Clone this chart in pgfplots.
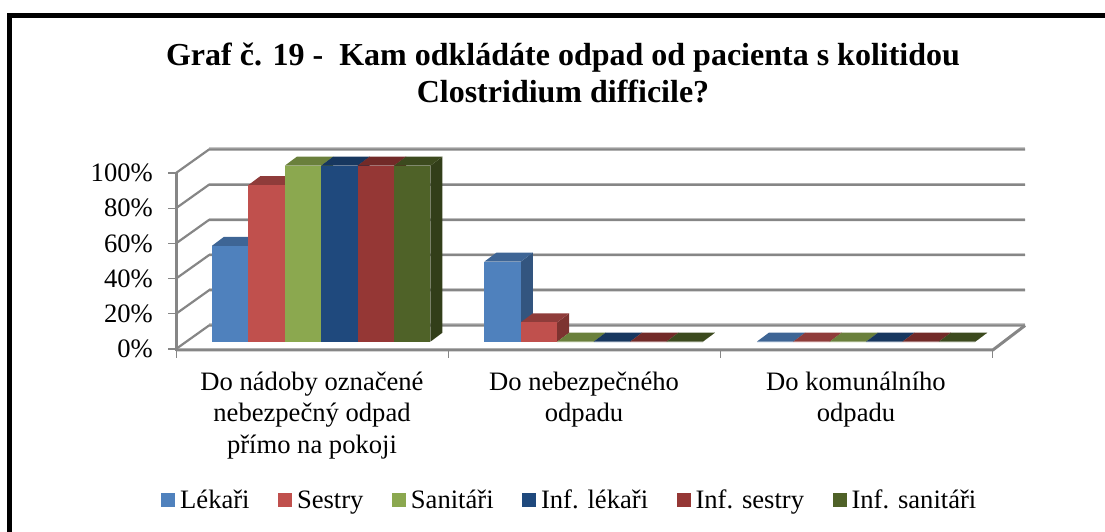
\documentclass[border=0pt]{standalone}
\usepackage{fontspec}
\setmainfont{Liberation Serif}
\usepackage{pgfplots}
\pgfplotsset{compat=1.18}

\definecolor{frontA}{HTML}{4F81BD}\definecolor{topA}{HTML}{3E6595}\definecolor{sideA}{HTML}{33557F}
\definecolor{frontB}{HTML}{C0504D}\definecolor{topB}{HTML}{8F3C3A}\definecolor{sideB}{HTML}{7D3330}
\definecolor{frontC}{HTML}{8BA84F}\definecolor{topC}{HTML}{6A803C}\definecolor{sideC}{HTML}{5A6E33}
\definecolor{frontD}{HTML}{1F497D}\definecolor{topD}{HTML}{17375F}\definecolor{sideD}{HTML}{132E50}
\definecolor{frontE}{HTML}{953735}\definecolor{topE}{HTML}{722A28}\definecolor{sideE}{HTML}{602322}
\definecolor{frontF}{HTML}{4F6228}\definecolor{topF}{HTML}{3C4A1E}\definecolor{sideF}{HTML}{323E19}
\definecolor{gridgray}{HTML}{868686}
\definecolor{gridlight}{HTML}{C6C6C6}

\newcommand{\tf}{\fontsize{26.6pt}{31.5pt}\selectfont}

% one 3D column: x of front left edge, value, colour suffix
\newcommand{\column}[3]{%
  \pgfmathsetmacro\xa{#1}\pgfmathsetmacro\xb{#1+36.4}%
  \pgfmathsetmacro\xc{#1+48.4}\pgfmathsetmacro\xd{#1+12}%
  \pgfmathsetmacro\ya{4.15}\pgfmathsetmacro\yb{4.15+#2}%
  \pgfmathsetmacro\yc{9.25+#2}\pgfmathsetmacro\yd{9.25}%
  \edef\temp{\noexpand\addplot[fill=side#3,draw=none,forget plot] coordinates {(\xb,\ya)(\xc,\yd)(\xc,\yc)(\xb,\yb)};
    \noexpand\addplot[fill=top#3,draw=none,forget plot] coordinates {(\xa,\yb)(\xb,\yb)(\xc,\yc)(\xd,\yc)};
    \noexpand\addplot[fill=front#3,draw=none,forget plot] coordinates {(\xa,\ya)(\xb,\ya)(\xb,\yb)(\xa,\yb)};}%
  \temp}

% wall line at level v: slant then horizontal along the back wall
\newcommand{\wall}[1]{%
  \pgfmathsetmacro\ya{#1}\pgfmathsetmacro\yb{#1+13.35}\pgfmathsetmacro\yc{#1+14.1}%
  \edef\temp{\noexpand\addplot[gridlight,line width=1.4pt,forget plot] coordinates {(33,\yc)(849,\yc)};
    \noexpand\addplot[gridgray,line width=2.2pt,forget plot] coordinates {(0,\ya)(33,\yb)(849,\yb)};}%
  \temp}

\begin{document}
\begin{tikzpicture}[x=1pt,y=1pt]
\path[use as bounding box] (0,0) rectangle (1105,532);
\draw[black,line width=5pt,line cap=round] (9.5,0) -- (9.5,516.5) -- (1105,516.5);
\begin{axis}[
  at={(176pt,183pt)},anchor=south west,
  scale only axis,width=817pt,height=176pt,
  xmin=0,xmax=817,ymin=0,ymax=100,
  clip=false,
  axis line style={draw=none},
  tick align=outside,
  xtick pos=bottom,ytick pos=left,
  ytick={0,20,40,60,80,100},
  yticklabel={\pgfmathprintnumber{\tick}\%},
  /pgf/number format/assume math mode=true,
  yticklabel style={font=\tf,inner sep=0pt,xshift=-15pt},
  xtick={136,408,680},
  xticklabels={Do nádoby označené\\nebezpečný odpad\\přímo na pokoji,Do nebezpečného\\odpadu,Do komunálního\\odpadu},
  xticklabel style={font=\tf,align=center,inner sep=0pt,yshift=-14.5pt,anchor=north},
  major x tick style={draw=none},
  minor xtick={0,272,544,816},
  minor x tick style={gridgray,line width=1pt},
  minor tick length=9pt,
  major y tick style={gridgray,line width=1.2pt},
  major tick length=8pt,
  title={Graf č. 19 -\ \ Kam odkládáte odpad od pacienta s kolitidou\\Clostridium difficile?},
  title style={font=\fontsize{32pt}{37pt}\selectfont\bfseries,align=center,at={(0.4737,1)},anchor=south,yshift=61pt},
  legend columns=6,
  legend style={draw=none,fill=none,at={(0.482,-0.858)},anchor=center,font=\tf,
    /tikz/every odd column/.append style={column sep=3pt},
    /tikz/every even column/.append style={column sep=26.4pt}},
  legend image code/.code={\path[#1] (0pt,-7pt) rectangle (14pt,7pt);},
]
% walls and floor
\wall{0}\wall{20}\wall{40}\wall{60}\wall{80}\wall{100}
\addplot[gridgray,line width=3pt,forget plot] coordinates {(0,100)(0,-1)};
\addplot[gridgray,line width=3pt,forget plot] coordinates {(0,-0.5)(817,-0.5)(849,13.35)};
% series, groups at x = 36, 308.4, 580.8
\column{36}{54.5}{A}\column{308.4}{45.5}{A}\column{580.8}{0}{A}
\column{72.4}{89}{B}\column{344.8}{11}{B}\column{617.2}{0}{B}
\column{108.8}{100}{C}\column{381.2}{0}{C}\column{653.6}{0}{C}
\column{145.2}{100}{D}\column{417.6}{0}{D}\column{690}{0}{D}
\column{181.6}{100}{E}\column{454}{0}{E}\column{726.4}{0}{E}
\column{218}{100}{F}\column{490.4}{0}{F}\column{762.8}{0}{F}
\addlegendimage{fill=frontA,draw=none}\addlegendentry{Lékaři}
\addlegendimage{fill=frontB,draw=none}\addlegendentry{Sestry}
\addlegendimage{fill=frontC,draw=none}\addlegendentry{Sanitáři}
\addlegendimage{fill=frontD,draw=none}\addlegendentry{Inf. lékaři}
\addlegendimage{fill=frontE,draw=none}\addlegendentry{Inf. sestry}
\addlegendimage{fill=frontF,draw=none}\addlegendentry{Inf. sanitáři}
\end{axis}
\end{tikzpicture}
\end{document}
